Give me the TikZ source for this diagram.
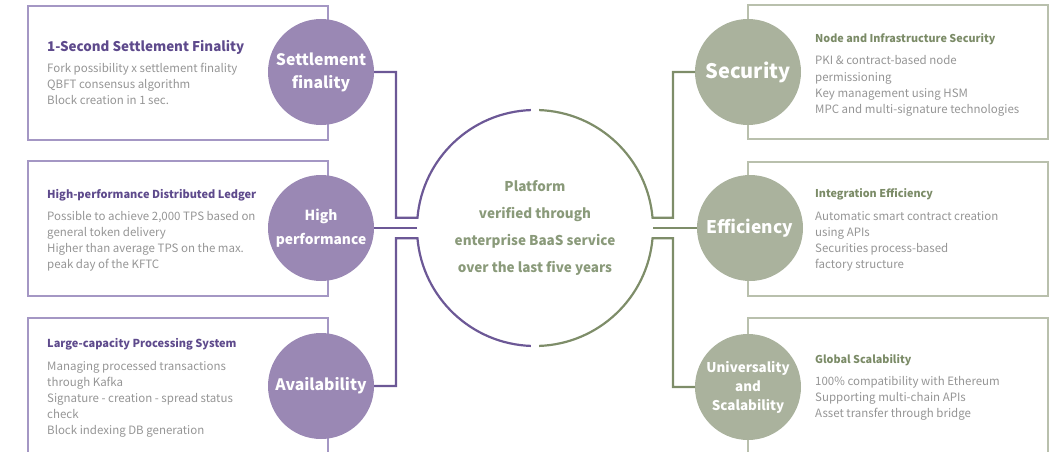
\documentclass[tikz,border=0pt]{standalone}
\usepackage{fontspec}
\setmainfont{Noto Sans CJK KR}
\usetikzlibrary{positioning}

\definecolor{fillpurple}{HTML}{9A88B4}
\definecolor{linepurple}{HTML}{6C5896}
\definecolor{boxpurple}{HTML}{A497C4}
\definecolor{titlepurple}{HTML}{5E4A8C}
\definecolor{fillgreen}{HTML}{AAB29D}
\definecolor{linegreen}{HTML}{7E8D69}
\definecolor{boxgreen}{HTML}{B9C0AD}
\definecolor{titlegreen}{HTML}{7B8B67}
\definecolor{centergreen}{HTML}{8A9A7A}
\definecolor{bodygray}{HTML}{959595}

\begin{document}
\begin{tikzpicture}[x=1pt,y=1pt,
  pbox/.style={draw=boxpurple, line width=1.3pt},
  gbox/.style={draw=boxgreen, line width=1.3pt},
  pline/.style={draw=linepurple, line width=2.2pt},
  gline/.style={draw=linegreen, line width=2.2pt},
  pcirc/.style={circle, fill=fillpurple, minimum size=106pt, inner sep=0pt, outer sep=0pt, text=white, align=center},
  gcirc/.style={circle, fill=fillgreen, minimum size=106pt, inner sep=0pt, outer sep=0pt, text=white, align=center},
  ptitle/.style={anchor=base west, inner sep=0pt, text=titlepurple, font=\bfseries\fontsize{11}{14}\selectfont},
  gtitle/.style={anchor=base west, inner sep=0pt, text=titlegreen, font=\bfseries\fontsize{10.8}{14}\selectfont},
  body/.style={inner sep=0pt, text=bodygray, align=left, font=\fontsize{11.5}{16}\selectfont}]
\useasboundingbox (0,0) rectangle (1055,-452);
\clip (0,0) rectangle (1055,-452);

% boxes
\draw[pbox] (28,-6) rectangle (328,-140);
\draw[pbox] (28,-161) rectangle (328,-296);
\draw[pbox] (28,-318) rectangle (328,-480);
\draw[gbox] (748,-5) rectangle (1048,-139);
\draw[gbox] (748,-162) rectangle (1048,-296);
\draw[gbox] (748,-318) rectangle (1048,-480);

% hub
\node[name=ctr, circle, minimum size=236pt, inner sep=0pt, outer sep=0pt, align=center,
  text=centergreen, font=\bfseries\fontsize{13.5}{26.7}\selectfont] at (535,-228)
  {Platform\\verified through\\enterprise BaaS service\\over the last five years};

% circles
\node[pcirc, name=settle, font=\bfseries\fontsize{15.8}{23}\selectfont] at (321,-72) {Settlement\\finality};
\node[pcirc, name=perf, font=\bfseries\fontsize{13.8}{24}\selectfont] at (321,-228) {High\\performance};
\node[pcirc, name=avail, font=\bfseries\fontsize{15.8}{23}\selectfont] at (321,-386) {Availability};
\node[gcirc, name=secur, font=\bfseries\fontsize{20}{23}\selectfont] at (748,-72) {Security};
\node[gcirc, name=effic, font=\bfseries\fontsize{17.4}{23}\selectfont] at (750,-228) {Efficiency};
\node[gcirc, name=univ, font=\bfseries\fontsize{13.4}{19}\selectfont] at (748,-387) {Universality\\and\\Scalability};

% connectors
\draw[pline] (settle.east) -- ++(22,0) |- (ctr.175) arc[start angle=175, end angle=92, radius=118];
\draw[pline] (avail.east) -- ++(22,0) |- (ctr.185) arc[start angle=185, end angle=268, radius=118];
\draw[pline] (perf.east) -- (ctr.180);
\draw[gline] (secur.west) -- ++(-22,0) |- (ctr.5) arc[start angle=5, end angle=88, radius=118];
\draw[gline] (univ.west) -- ++(-22,0) |- (ctr.-5) arc[start angle=-5, end angle=-88, radius=118];
\draw[gline] (ctr.0) -- (effic.west);

% left texts
\node[ptitle, name=t1, font=\bfseries\fontsize{13.4}{18}\selectfont] at (47,-52) {1-Second Settlement Finality};
\node[body, below=52pt of t1.base west, anchor=base west] {Fork possibility x settlement finality\\QBFT consensus algorithm\\Block creation in 1 sec.};
\node[ptitle, name=t2] at (47,-198) {High-performance Distributed Ledger};
\node[body, below=70pt of t2.base west, anchor=base west] {Possible to achieve 2,000 TPS based on\\general token delivery\\Higher than average TPS on the max.\\peak day of the KFTC};
\node[ptitle, name=t3] at (47,-347) {Large-capacity Processing System};
\node[body, below=87pt of t3.base west, anchor=base west] {Managing processed transactions\\through Kafka\\Signature - creation - spread status\\check\\Block indexing DB generation};

% right texts
\node[gtitle, name=t4] at (815,-43) {Node and Infrastructure Security};
\node[body, below=70pt of t4.base west, anchor=base west] {PKI \& contract-based node\\permissioning\\Key management using HSM\\MPC and multi-signature technologies};
\node[gtitle, name=t5] at (815,-197) {Integration Efficiency};
\node[body, below=71pt of t5.base west, anchor=base west] {Automatic smart contract creation\\using APIs\\Securities process-based\\factory structure};
\node[gtitle, name=t6] at (815,-363) {Global Scalability};
\node[body, below=54pt of t6.base west, anchor=base west] {100\% compatibility with Ethereum\\Supporting multi-chain APIs\\Asset transfer through bridge};
\end{tikzpicture}
\end{document}
